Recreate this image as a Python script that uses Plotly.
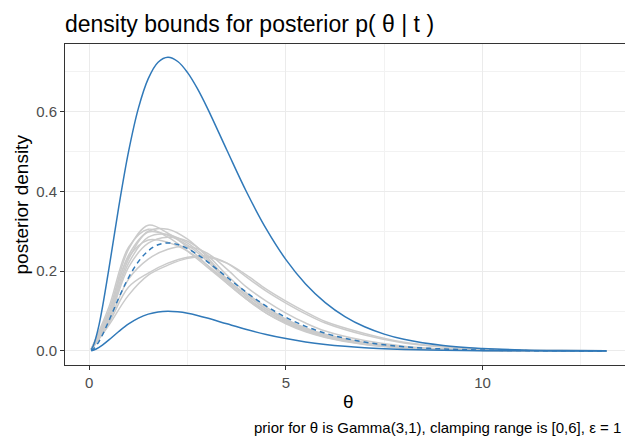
import plotly.graph_objects as go

# ---- data ----
theta_bounds = [0.05, 0.1, 0.25, 0.5, 0.75, 1.0, 1.25, 1.5, 1.75, 2.0, 2.25, 2.5, 2.75, 3.0,
                3.5, 4.0, 4.5, 5.0, 5.5, 6.0, 6.5, 7.0, 7.5, 8.0, 9.0, 10.0, 11.0, 12.0, 13.15]
prior_density = [0.0012, 0.0045, 0.0243, 0.0758, 0.1329, 0.1839, 0.2238, 0.2510, 0.2661, 0.2707,
                 0.2668, 0.2565, 0.2417, 0.2240, 0.1850, 0.1465, 0.1125, 0.0842, 0.0618, 0.0446,
                 0.0318, 0.0223, 0.0156, 0.0107, 0.0050, 0.0023, 0.0010, 0.0004, 0.0002]
upper_bound = [0.0032, 0.0123, 0.0662, 0.2061, 0.3611, 0.5000, 0.6084, 0.6823, 0.7233, 0.7358,
               0.7252, 0.6973, 0.6571, 0.6090, 0.5028, 0.3983, 0.3058, 0.2289, 0.1680, 0.1213,
               0.0863, 0.0607, 0.0423, 0.0292, 0.0136, 0.0062, 0.0027, 0.0012, 0.0005]
lower_bound = [0.0004, 0.0017, 0.0090, 0.0279, 0.0489, 0.0677, 0.0823, 0.0923, 0.0979, 0.0996,
               0.0981, 0.0944, 0.0889, 0.0824, 0.0680, 0.0539, 0.0414, 0.0310, 0.0227, 0.0164,
               0.0117, 0.0082, 0.0057, 0.0039, 0.0018, 0.0008, 0.0004, 0.0002, 0.0001]

theta_samples = [0.05, 0.5, 1.0, 1.5, 2.0, 2.5, 3.0, 3.5, 4.0, 4.5, 5.0, 5.5, 6.0, 7.0, 8.0,
                 9.0, 10.0, 11.0, 12.0, 13.15]
post_a = [0.004, 0.10, 0.255, 0.315, 0.295, 0.26, 0.215, 0.17, 0.13, 0.10, 0.075, 0.055, 0.04, 0.02, 0.009, 0.004, 0.002, 0.001, 0.0004, 0.0002]
post_b = [0.004, 0.09, 0.23, 0.30, 0.305, 0.28, 0.235, 0.18, 0.135, 0.10, 0.072, 0.052, 0.037, 0.018, 0.008, 0.0035, 0.0015, 0.0007, 0.0003, 0.0001]
post_c = [0.004, 0.095, 0.24, 0.298, 0.29, 0.265, 0.225, 0.175, 0.13, 0.095, 0.07, 0.05, 0.035, 0.017, 0.008, 0.0035, 0.0015, 0.0007, 0.0003, 0.0001]
post_d = [0.004, 0.085, 0.22, 0.285, 0.292, 0.27, 0.23, 0.18, 0.14, 0.105, 0.078, 0.056, 0.04, 0.02, 0.009, 0.004, 0.0018, 0.0008, 0.0003, 0.0001]
post_e = [0.004, 0.08, 0.21, 0.27, 0.285, 0.275, 0.24, 0.19, 0.145, 0.11, 0.08, 0.058, 0.042, 0.021, 0.01, 0.0045, 0.002, 0.0009, 0.0004, 0.0001]
post_f = [0.005, 0.10, 0.235, 0.278, 0.272, 0.25, 0.215, 0.175, 0.14, 0.105, 0.078, 0.055, 0.038, 0.018, 0.008, 0.0035, 0.0015, 0.0007, 0.0003, 0.0001]
post_g = [0.003, 0.07, 0.16, 0.195, 0.22, 0.235, 0.238, 0.22, 0.185, 0.15, 0.12, 0.093, 0.07, 0.04, 0.02, 0.01, 0.005, 0.002, 0.001, 0.0004]
post_h = [0.003, 0.065, 0.14, 0.19, 0.215, 0.232, 0.235, 0.22, 0.19, 0.155, 0.125, 0.098, 0.074, 0.044, 0.022, 0.011, 0.005, 0.002, 0.001, 0.0004]
post_i = [0.004, 0.075, 0.18, 0.23, 0.255, 0.262, 0.245, 0.205, 0.16, 0.125, 0.095, 0.07, 0.05, 0.026, 0.012, 0.0055, 0.0025, 0.001, 0.0005, 0.0002]
post_j = [0.005, 0.11, 0.26, 0.305, 0.285, 0.25, 0.21, 0.17, 0.13, 0.095, 0.068, 0.048, 0.034, 0.016, 0.007, 0.003, 0.0013, 0.0006, 0.0002, 0.0001]
posterior_samples = [post_a, post_b, post_c, post_d, post_e, post_f, post_g, post_h, post_i, post_j]

x_ticks = [0, 5, 10]
y_ticks = [0.0, 0.2, 0.4, 0.6]
y_tick_labels = ["0.0", "0.2", "0.4", "0.6"]

title_text = "density bounds for posterior p( θ | t )"
x_title = "θ"
y_title = "posterior density"
caption_text = "prior for θ is Gamma(3,1), clamping range is [0,6], ε = 1"

BLUE = "#3079B9"
GRAY = "#CBCBCB"
FONT = "Liberation Sans, Arial, sans-serif"

# the page body adds an 8px offset; margins compensate so the panel lands at
# screen x 65..632, y 44..365
OFF = 8

fig = go.Figure()
for ys in posterior_samples:
    fig.add_trace(go.Scatter(x=theta_samples, y=ys, mode="lines",
                             line=dict(color=GRAY, width=1.5, shape="spline", smoothing=1.0),
                             hoverinfo="skip", showlegend=False))
fig.add_trace(go.Scatter(x=theta_bounds, y=prior_density, mode="lines",
                         line=dict(color=BLUE, width=1.5, dash="5px,4px", shape="spline", smoothing=1.0),
                         showlegend=False))
fig.add_trace(go.Scatter(x=theta_bounds, y=upper_bound, mode="lines",
                         line=dict(color=BLUE, width=1.5, shape="spline", smoothing=1.0),
                         showlegend=False))
fig.add_trace(go.Scatter(x=theta_bounds, y=lower_bound, mode="lines",
                         line=dict(color=BLUE, width=1.5, shape="spline", smoothing=1.0),
                         showlegend=False))

fig.update_layout(
    width=633, height=438,
    margin=dict(l=65 - OFF, r=1 + OFF, t=44 - OFF, b=73 + OFF, autoexpand=False),
    paper_bgcolor="white", plot_bgcolor="white",
    font=dict(family=FONT, color="#000000"),
    title=dict(text=title_text, x=0, xanchor="left", xref="paper",
               y=1 - (24 - OFF) / 438, yanchor="middle", yref="container",
               font=dict(size=23, color="#000000")),
)

fig.update_xaxes(
    range=[-0.617, 13.80], tickvals=x_ticks, ticktext=[str(v) for v in x_ticks],
    showgrid=True, gridcolor="#EBEBEB", gridwidth=1.1,
    minor=dict(tickvals=[2.5, 7.5, 12.5], showgrid=True, gridcolor="#F2F2F2", gridwidth=0.6),
    showline=True, linecolor="#333333", linewidth=1, mirror=True,
    ticks="outside", ticklen=4, tickcolor="#333333", tickwidth=1,
    tickfont=dict(size=15, color="#4D4D4D"),
    automargin=False, zeroline=False,
)
fig.update_yaxes(
    range=[-0.0351, 0.769], tickvals=y_ticks, ticktext=y_tick_labels,
    showgrid=True, gridcolor="#EBEBEB", gridwidth=1.1,
    minor=dict(tickvals=[0.1, 0.3, 0.5, 0.7], showgrid=True, gridcolor="#F2F2F2", gridwidth=0.6),
    showline=True, linecolor="#333333", linewidth=1, mirror=True,
    ticks="outside", ticklen=4, tickcolor="#333333", tickwidth=1,
    tickfont=dict(size=15, color="#4D4D4D"),
    automargin=False, zeroline=False,
)

# axis titles and caption (panel: 567 x 321 px)
fig.add_annotation(text=x_title, xref="paper", yref="paper", x=0.5, y=-(402 - 365) / 321,
                   xanchor="center", yanchor="middle", showarrow=False,
                   font=dict(size=19, color="#000000"))
fig.add_annotation(text=y_title, xref="paper", yref="paper", x=-(65 - 21) / 567, y=0.5,
                   xanchor="center", yanchor="middle", textangle=-90, showarrow=False,
                   font=dict(size=19, color="#000000"))
fig.add_annotation(text=caption_text, xref="paper", yref="paper",
                   x=(623 - 65) / 567, y=-(427 - 365) / 321, xanchor="right", yanchor="middle",
                   showarrow=False, font=dict(size=15, color="#000000"))

fig.write_html("out.html")
